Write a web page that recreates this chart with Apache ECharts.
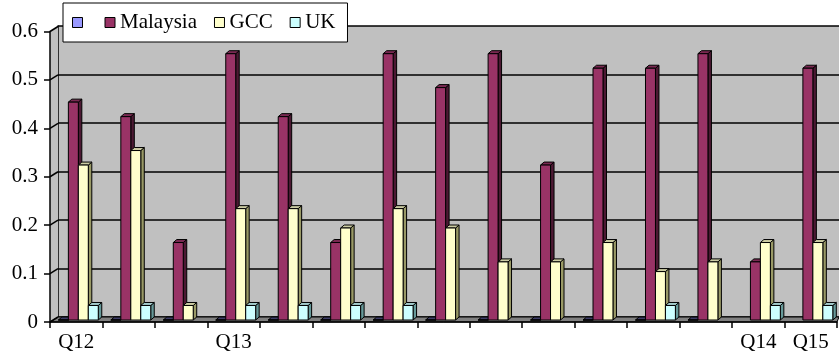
<!DOCTYPE html>
<html>
<head>
<meta charset="utf-8">
<script src="https://cdn.jsdelivr.net/npm/echarts@6/dist/echarts.min.js"></script>
<style>
  html, body { margin: 0; padding: 0; background: #fff; }
  #chart { width: 839px; height: 357px; }
</style>
</head>
<body>
<div id="chart"></div>
<script>
// categories, only some quarters are labelled on the axis
const categories = ['Q12', '', '', 'Q13', '', '', '', '', '', '', '', '', '', 'Q14', 'Q15'];
const seriesNames = ['\u200b', 'Malaysia', 'GCC', 'UK'];
const blankValues = [0, 0, 0, 0, 0, 0, 0, 0, 0, 0, 0, 0, 0, null, null];
const malaysiaValues = [0.45, 0.42, 0.16, 0.55, 0.42, 0.16, 0.55, 0.48, 0.55, 0.32, 0.52, 0.52, 0.55, 0.12, 0.52];
const gccValues = [0.32, 0.35, 0.03, 0.23, 0.23, 0.19, 0.23, 0.19, 0.12, 0.12, 0.16, 0.10, 0.12, 0.16, 0.16];
const ukValues = [0.03, 0.03, null, 0.03, 0.03, 0.03, 0.03, null, null, null, null, 0.03, null, 0.03, 0.03];
const yTicks = [0, 0.1, 0.2, 0.3, 0.4, 0.5, 0.6];

const FONT = 'Liberation Serif';
const DEPTH_X = 8; // wall depth
const DEPTH_Y = 5;

// front face / top / side colours for each series
const palette = [
  { front: '#9999FF', top: '#3D3D66', side: '#3D3D66' },
  { front: '#993366', top: '#7A2952', side: '#4C1933' },
  { front: '#FFFFCC', top: '#CCCCA3', side: '#999966' },
  { front: '#CCFFFF', top: '#A3CCCC', side: '#669999' },
];

function barSeries(k, values) {
  const c = palette[k];
  return {
    type: 'custom',
    name: seriesNames[k],
    xAxisIndex: 1,
    yAxisIndex: 1,
    z: 3,
    itemStyle: { color: c.front },
    data: values.map((v, i) => [i, v == null ? '-' : v]),
    renderItem(params, api) {
      const v = api.value(1);
      if (v == null || isNaN(v)) return null;
      const idx = api.value(0);
      const base = api.coord([idx, 0]);
      const top = api.coord([idx, v]);
      const band = api.size([1, 0])[0];
      const w = band * 0.19;
      const x0 = base[0] - 2 * w + k * w + band * 0.04;
      const y0 = base[1] - 2;
      const y1 = top[1] - 2;
      const dx = 3.5;
      const dy = 3;
      const line = { stroke: '#000', lineWidth: 1 };
      return {
        type: 'group',
        children: [
          {
            type: 'polygon',
            shape: { points: [[x0 + w, y0], [x0 + w + dx, y0 - dy], [x0 + w + dx, y1 - dy], [x0 + w, y1]] },
            style: Object.assign({ fill: c.side }, line),
          },
          {
            type: 'polygon',
            shape: { points: [[x0, y1], [x0 + dx, y1 - dy], [x0 + w + dx, y1 - dy], [x0 + w, y1]] },
            style: Object.assign({ fill: c.top }, line),
          },
          {
            type: 'rect',
            shape: { x: x0, y: y1, width: w, height: y0 - y1 },
            style: Object.assign({ fill: c.front }, line),
          },
        ],
      };
    },
  };
}

// side wall, floor and the slanted gridlines joining front axis and back wall
const wallSeries = {
  type: 'custom',
  xAxisIndex: 1,
  yAxisIndex: 1,
  z: 1,
  silent: true,
  data: yTicks.map((t) => [0, t]),
  renderItem(params, api) {
    const cs = params.coordSys;
    const p = api.coord([0, api.value(1)]);
    const children = [];
    if (params.dataIndex === 0) {
      const bottom = cs.y + cs.height;
      children.push({
        type: 'polygon',
        shape: { points: [[cs.x, bottom], [cs.x, cs.y], [cs.x + DEPTH_X, cs.y - DEPTH_Y], [cs.x + DEPTH_X, bottom - DEPTH_Y]] },
        style: { fill: '#C0C0C0' },
      });
      children.push({
        type: 'polygon',
        shape: { points: [[cs.x, bottom], [cs.x + DEPTH_X, bottom - DEPTH_Y], [cs.x + cs.width + 2, bottom - DEPTH_Y], [cs.x + cs.width, bottom]] },
        style: { fill: '#808080', stroke: '#000', lineWidth: 1 },
      });
    }
    children.push({
      type: 'line',
      shape: { x1: cs.x, y1: p[1], x2: cs.x + DEPTH_X, y2: p[1] - DEPTH_Y },
      style: { stroke: '#000', lineWidth: 1.5 },
    });
    return { type: 'group', children };
  },
};

const chart = echarts.init(document.getElementById('chart'), null, { renderer: 'canvas' });
chart.setOption({
  animation: false,
  backgroundColor: '#fff',
  textStyle: { fontFamily: FONT },
  legend: {
    left: 63,
    top: 3,
    padding: [9, 12, 9, 9],
    itemGap: 17,
    itemWidth: 10,
    itemHeight: 10,
    icon: 'rect',
    backgroundColor: '#fff',
    borderColor: '#000',
    borderWidth: 1,
    itemStyle: { borderColor: '#000', borderWidth: 1 },
    textStyle: { fontFamily: FONT, fontSize: 21, color: '#000' },
    data: seriesNames,
  },
  grid: [
    // back wall
    { left: 58, right: 0, top: 26, bottom: 40, show: true, backgroundColor: '#C0C0C0', borderWidth: 0 },
    // front axes
    { left: 50, right: 2, top: 31.5, bottom: 35 },
  ],
  xAxis: [
    { gridIndex: 0, type: 'category', data: categories, show: false },
    {
      gridIndex: 1,
      type: 'category',
      data: categories,
      z: 5,
      axisLine: { lineStyle: { color: '#000', width: 1.5 } },
      axisTick: { show: true, length: 6, lineStyle: { color: '#000', width: 1.5 } },
      axisLabel: { interval: 0, margin: 10, fontFamily: FONT, fontSize: 21, color: '#000' },
    },
  ],
  yAxis: [
    {
      gridIndex: 0,
      type: 'value',
      min: 0,
      max: 0.6,
      interval: 0.1,
      axisLine: { show: true, lineStyle: { color: '#000', width: 1.5 } },
      axisTick: { show: false },
      axisLabel: { show: false },
      splitLine: { show: true, lineStyle: { color: '#000', width: 1.5 } },
    },
    {
      gridIndex: 1,
      type: 'value',
      min: 0,
      max: 0.6,
      interval: 0.1,
      z: 5,
      axisLine: { show: true, lineStyle: { color: '#000', width: 1.5 } },
      axisTick: { show: true, length: 6, lineStyle: { color: '#000', width: 1.5 } },
      axisLabel: { margin: 12, fontFamily: FONT, fontSize: 21, color: '#000' },
      splitLine: { show: false },
    },
  ],
  series: [
    wallSeries,
    barSeries(0, blankValues),
    barSeries(1, malaysiaValues),
    barSeries(2, gccValues),
    barSeries(3, ukValues),
  ],
});
</script>
</body>
</html>
